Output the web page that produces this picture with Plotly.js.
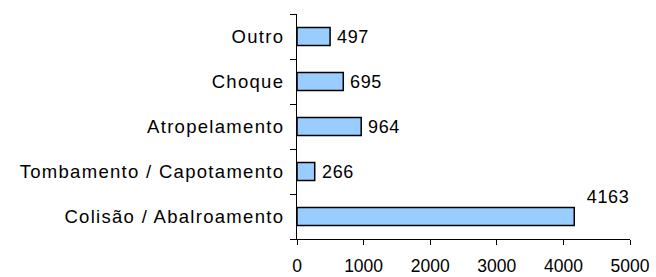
<!DOCTYPE html>
<html><head><meta charset="utf-8">
<script src="https://cdn.plot.ly/plotly-3.0.1.min.js"></script>
<style>html,body{margin:0;padding:0;background:#fff;}#chart{width:656px;height:277px;}
#chart .ytick text{letter-spacing:1.3px;}
#chart .annotation-text{letter-spacing:0.6px;}</style>
</head><body><div id="chart"></div>
<script>
const categories = ['Colisão / Abalroamento', 'Tombamento / Capotamento', 'Atropelamento', 'Choque', 'Outro'];
const values = [4163, 266, 964, 695, 497];
const xTicks = [0, 1000, 2000, 3000, 4000, 5000];

const numFont = {family: 'Liberation Sans, Arial, sans-serif', size: 18, color: '#000'};
const tickFont = {family: 'Liberation Sans, Arial, sans-serif', size: 17.5, color: '#000'};
const catFont = {family: 'Liberation Sans, Arial, sans-serif', size: 18.5, color: '#000'};

const annotations = categories.map((c, i) => {
  const big = values[i] > 3000;
  return {
    x: values[i], y: c, xref: 'x', yref: 'y',
    text: String(values[i]), showarrow: false,
    xanchor: 'left', yanchor: 'middle',
    xshift: big ? 12 : 6, yshift: big ? 20 : 0,
    font: numFont
  };
});

Plotly.newPlot('chart', [{
  type: 'bar', orientation: 'h',
  x: values, y: categories,
  marker: {color: '#99CCFF', line: {color: '#000', width: 1.5}},
  hoverinfo: 'none'
}], {
  width: 656, height: 277,
  margin: {l: 297, r: 26, t: 14, b: 38, pad: 0},
  paper_bgcolor: '#fff', plot_bgcolor: '#fff',
  bargap: 0.6,
  showlegend: false,
  font: numFont,
  xaxis: {
    range: [0, 5000], tickvals: xTicks, ticktext: xTicks.map(String),
    showgrid: false, zeroline: false, showline: true, linecolor: '#000', linewidth: 1,
    ticks: 'outside', ticklen: 5, tickcolor: '#000', tickwidth: 1,
    ticklabelstandoff: 6, tickfont: tickFont, fixedrange: true
  },
  yaxis: {
    type: 'category', categoryorder: 'array', categoryarray: categories,
    showgrid: false, zeroline: false, showline: true, linecolor: '#000', linewidth: 1,
    ticks: 'outside', tickson: 'boundaries', ticklen: 6, tickcolor: '#000', tickwidth: 1,
    ticklabelstandoff: 8, tickfont: catFont, fixedrange: true
  },
  annotations: annotations
}, {staticPlot: true, displayModeBar: false});
</script></body></html>
